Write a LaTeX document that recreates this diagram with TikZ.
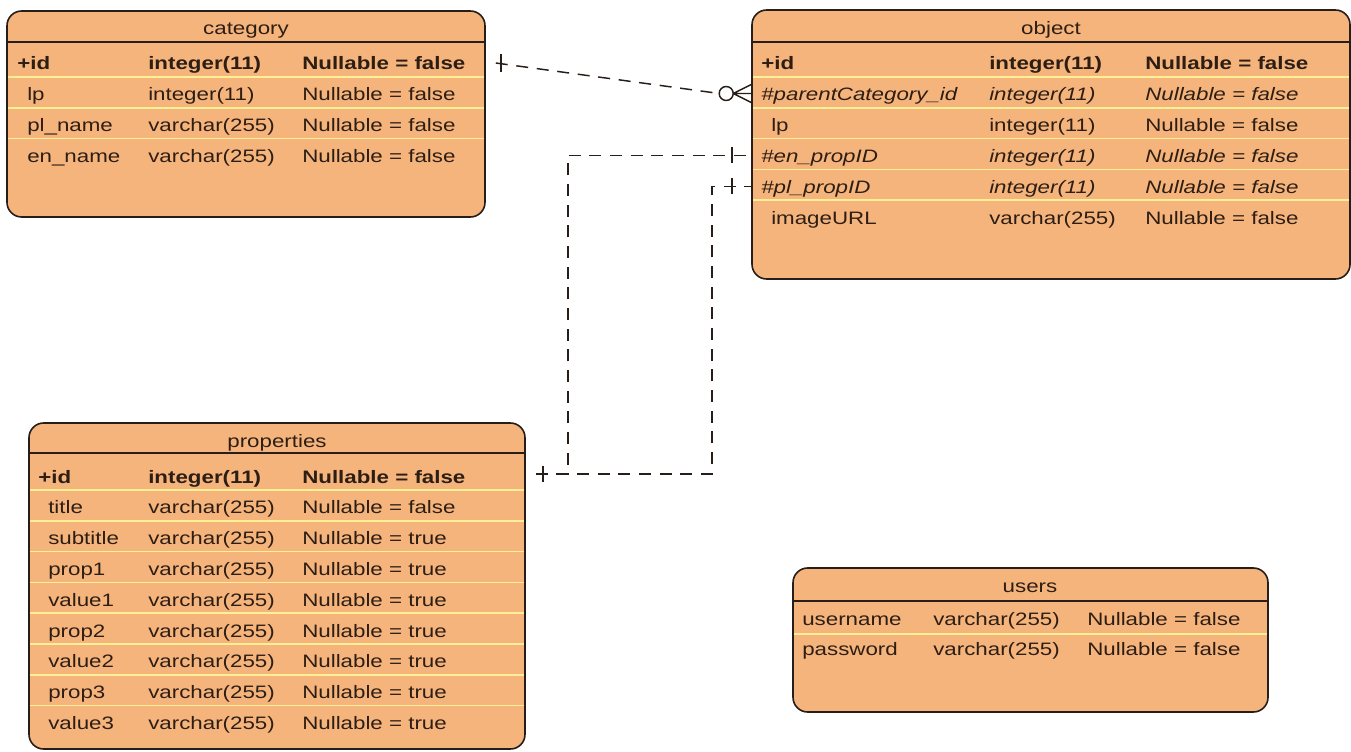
\documentclass[tikz,border=0pt]{standalone}
\usepackage{fontspec}
\setmainfont{Liberation Sans}[FakeStretch=1.24]
\usetikzlibrary{fit,calc}
\definecolor{erfill}{RGB}{246,180,125}
\definecolor{erline}{RGB}{40,30,25}
\definecolor{ersep}{RGB}{255,240,150}
\definecolor{ertext}{RGB}{45,30,20}

\begin{document}
\begin{tikzpicture}[x=0.75pt, y=-0.75pt,
  table/.style={draw=erline, fill=erfill, line width=1.2pt, rounded corners=11pt, inner sep=0pt},
  title/.style={anchor=base, inner sep=0pt, text=ertext, font=\fontsize{13.5}{16}\selectfont},
  cell/.style={anchor=base west, inner sep=0pt, text=ertext, font=\fontsize{13.5}{16}\selectfont},
  headline/.style={draw=erline, line width=1.2pt},
  sepline/.style={draw=ersep, line width=1.1pt},
  rel/.style={draw=erline, line width=1.1pt, dash pattern=on 9pt off 6.5pt},
  tick/.style={draw=erline, line width=1.1pt}]
  \useasboundingbox (0,0) rectangle (1351,752);

  % category
  \node[table, fit={(7,11) (485,217)}] (category) {};
  \node[title] (category-title) at (246,35) {category};
  \draw[headline] (category.west |- 0,42) -- (category.east |- 0,42);
  \foreach \i in {1,...,3}
    \draw[sepline] (8,{77+30.8*(\i-1)}) -- (484,{77+30.8*(\i-1)});
  \foreach \fs/\dx/\nm/\tp/\nl [count=\i] in {
    \bfseries/0/+id/integer(11)/Nullable = false,
    \relax/10/lp/integer(11)/Nullable = false,
    \relax/10/pl\_name/varchar(255)/Nullable = false,
    \relax/10/en\_name/varchar(255)/Nullable = false}
  {
    \node[cell] (category-\i-name) at ({17+\dx},{70+30.8*(\i-1)}) {\fs\nm};
    \node[cell] (category-\i-type) at (148,{70+30.8*(\i-1)}) {\fs\tp};
    \node[cell] (category-\i-null) at (302,{70+30.8*(\i-1)}) {\fs\nl};
  }

  % object
  \node[table, fit={(752,10) (1350,279)}] (object) {};
  \node[title] (object-title) at (1051,35) {object};
  \draw[headline] (object.west |- 0,42) -- (object.east |- 0,42);
  \foreach \i in {1,...,5}
    \draw[sepline] (753,{77+30.8*(\i-1)}) -- (1349,{77+30.8*(\i-1)});
  \foreach \fs/\dx/\nm/\tp/\nl [count=\i] in {
    \bfseries/0/+id/integer(11)/Nullable = false,
    \itshape/0/\#parentCategory\_id/integer(11)/Nullable = false,
    \relax/10/lp/integer(11)/Nullable = false,
    \itshape/0/\#en\_propID/integer(11)/Nullable = false,
    \itshape/0/\#pl\_propID/integer(11)/Nullable = false,
    \relax/10/imageURL/varchar(255)/Nullable = false}
  {
    \node[cell] (object-\i-name) at ({761+\dx},{70+30.8*(\i-1)}) {\fs\nm};
    \node[cell] (object-\i-type) at (989,{70+30.8*(\i-1)}) {\fs\tp};
    \node[cell] (object-\i-null) at (1145,{70+30.8*(\i-1)}) {\fs\nl};
  }

  % properties
  \node[table, fit={(29,423) (525,749)}] (properties) {};
  \node[title] (properties-title) at (277,447) {properties};
  \draw[headline] (properties.west |- 0,453) -- (properties.east |- 0,453);
  \foreach \i in {1,...,8}
    \draw[sepline] (30,{490+30.8*(\i-1)}) -- (524,{490+30.8*(\i-1)});
  \foreach \fs/\dx/\nm/\tp/\nl [count=\i] in {
    \bfseries/0/+id/integer(11)/Nullable = false,
    \relax/10/title/varchar(255)/Nullable = false,
    \relax/10/subtitle/varchar(255)/Nullable = true,
    \relax/10/prop1/varchar(255)/Nullable = true,
    \relax/10/value1/varchar(255)/Nullable = true,
    \relax/10/prop2/varchar(255)/Nullable = true,
    \relax/10/value2/varchar(255)/Nullable = true,
    \relax/10/prop3/varchar(255)/Nullable = true,
    \relax/10/value3/varchar(255)/Nullable = true}
  {
    \node[cell] (properties-\i-name) at ({38+\dx},{483+30.8*(\i-1)}) {\fs\nm};
    \node[cell] (properties-\i-type) at (148,{483+30.8*(\i-1)}) {\fs\tp};
    \node[cell] (properties-\i-null) at (302,{483+30.8*(\i-1)}) {\fs\nl};
  }

  % users
  \node[table, fit={(793,568) (1268,712)}] (users) {};
  \node[title] (users-title) at (1030,592) {users};
  \draw[headline] (users.west |- 0,601) -- (users.east |- 0,601);
  \draw[sepline] (794,634) -- (1267,634);
  \foreach \nm/\tp/\nl [count=\i] in {
    username/varchar(255)/Nullable = false,
    password/varchar(255)/Nullable = false}
  {
    \node[cell] (users-\i-name) at (802,{625+30.8*(\i-1)}) {\nm};
    \node[cell] (users-\i-type) at (933,{625+30.8*(\i-1)}) {\tp};
    \node[cell] (users-\i-null) at (1087,{625+30.8*(\i-1)}) {\nl};
  }

  % relationships
  \coordinate (category-pk) at ($(category.east |- 0,63)+(10,0)$);
  \coordinate (object-parent) at (object.west |- 0,93.5);
  \coordinate (object-en) at (object.west |- 0,155.5);
  \coordinate (object-pl) at (object.west |- 0,186.5);
  \coordinate (properties-pk) at ($(properties.east |- 0,474)+(10,0)$);

  \draw[rel] (category-pk) -- ($(object-parent)+(-32,0)$);
  \draw[tick] ($(category-pk)+(5,-9)$) -- ++(0,18);
  \draw[tick, fill=white] ($(object-parent)+(-25,0)$) circle (7);
  \draw[tick] ($(object-parent)+(-18,0)$) -- ++(18,-9)
    ($(object-parent)+(-18,0)$) -- ++(18,0)
    ($(object-parent)+(-18,0)$) -- ++(18,9);

  \draw[rel] (properties-pk) -- ++(32,0) |- (object-en);
  \draw[rel] (properties-pk) -- ++(176,0) |- (object-pl);
  \draw[tick] ($(properties-pk)+(7,-8)$) -- ++(0,16);
  \draw[tick] ($(object-en)+(-19,-8)$) -- ++(0,16);
  \draw[tick] ($(object-pl)+(-19,-8)$) -- ++(0,16);
\end{tikzpicture}
\end{document}
